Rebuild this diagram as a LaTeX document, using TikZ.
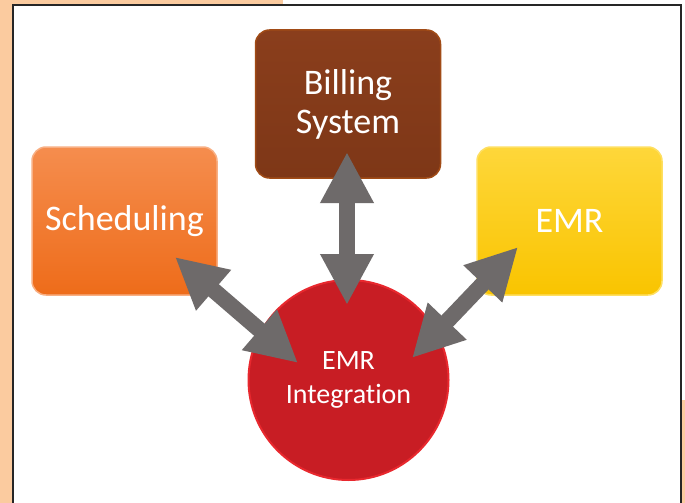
\documentclass[tikz,border=0pt]{standalone}
\usepackage{fontspec}
\setmainfont{Carlito}[Ligatures={NoCommon,NoContextual},Contextuals=NoAlternate]
\usetikzlibrary{arrows.meta}
\definecolor{peach}{HTML}{FBCB9F}
\definecolor{orangeT}{HTML}{F58D4E}
\definecolor{orangeB}{HTML}{EE6C1A}
\definecolor{brownT}{HTML}{8A3E1C}
\definecolor{brownB}{HTML}{7E3717}
\definecolor{yellowT}{HTML}{FED73A}
\definecolor{yellowB}{HTML}{F9C400}
\definecolor{redC}{HTML}{C81D24}
\definecolor{redE}{HTML}{E8282E}
\definecolor{grayA}{HTML}{6E6A6A}
\tikzset{
  box/.style={rounded corners=14pt, minimum width=185pt, minimum height=148pt,
    text=white, font=\fontsize{36}{39}\selectfont, align=center, inner sep=0pt},
  hub/.style={circle, minimum size=200pt, inner sep=0pt, fill=redC, draw=redE,
    line width=2pt, text=white, font=\fontsize{28}{34}\selectfont, align=center},
  dblarrow/.style={draw=grayA, line width=16pt,
    {Triangle[length=51pt,width=50pt,fill=grayA]}-{Triangle[length=51pt,width=50pt,fill=grayA]}}
}
\begin{document}
\begin{tikzpicture}[x=1pt,y=-1pt]
\useasboundingbox (0,0) rectangle (685,503);
\fill[peach] (0,0) rectangle (685,503);
\fill[white] (283,0) rectangle (685,5);
\fill[white] (681,0) rectangle (685,400);
\fill[white] (13,5) rectangle (681,510);
\draw[black!85, line width=2pt] (13,520) -- (13,5) -- (681,5) -- (681,520);
% nodes
\node[box, top color=orangeT, bottom color=orangeB, draw=orangeT!70!white, line width=1.5pt]
  (sched) at (124.5,221) {Scheduling};
\node[box, top color=brownT, bottom color=brownB, draw=brownT!80!orange, line width=1.5pt]
  (bill) at (348,104) {Billing\\System};
\node[box, top color=yellowT, bottom color=yellowB, draw=yellowT!80!white, line width=1.5pt]
  (emr) at (569.5,221) {EMR};
\node[hub] (hub) at (348.5,380) {EMR\\Integration};
% arrow tips
\coordinate (t1) at (175,257);
\coordinate (h1) at (298,363);
\coordinate (t2) at (347,152);
\coordinate (h2) at (347,305);
\coordinate (t3) at (518,247);
\coordinate (h3) at (412,358);
\draw[dblarrow] (t1) -- (h1);
\draw[dblarrow] (t2) -- (h2);
\draw[dblarrow] (t3) -- (h3);
\end{tikzpicture}
\end{document}
